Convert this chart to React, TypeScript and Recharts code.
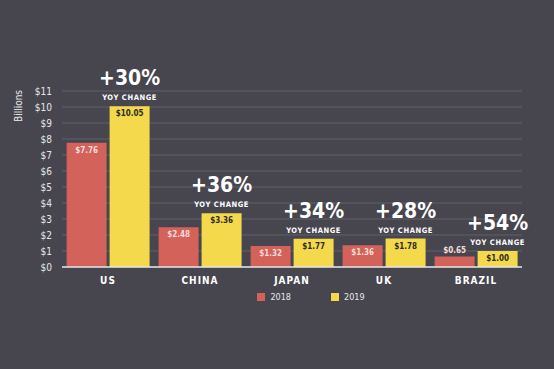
import React from "react";
import {
  BarChart,
  Bar,
  XAxis,
  YAxis,
  CartesianGrid,
  Legend,
  LabelList
} from "recharts";

const countries = ["US", "CHINA", "JAPAN", "UK", "BRAZIL"];
const values2018 = [7.76, 2.48, 1.32, 1.36, 0.65];
const values2019 = [10.05, 3.36, 1.77, 1.78, 1.0];
const yoyChange = ["+30%", "+36%", "+34%", "+28%", "+54%"];
const yTicks = [0, 1, 2, 3, 4, 5, 6, 7, 8, 9, 10, 11];

const data = countries.map((c, i) => ({
  country: c,
  y2018: values2018[i],
  y2019: values2019[i],
  yoy: yoyChange[i]
}));

const BG = "#47464f";
const RED = "#d2625a";
const YELLOW = "#f3d94b";
const FONT = "'DejaVu Sans Condensed', 'DejaVu Sans', sans-serif";

const money = (v: number) => `$${v.toFixed(2)}`;

const RedLabel = (props: any) => {
  const { x, y, width, height, value } = props;
  const inside = height > 16;
  return (
    <text
      x={x + width / 2}
      y={inside ? y + 10 : y - 4}
      textAnchor="middle"
      fill="#f6dcd6"
      fontFamily={FONT}
      fontWeight="bold"
      fontSize={8}
    >
      {money(value)}
    </text>
  );
};

const YellowLabel = (props: any) => {
  const { x, y, width, value } = props;
  return (
    <text
      x={x + width / 2}
      y={y + 10}
      textAnchor="middle"
      fill="#2e2b24"
      fontFamily={FONT}
      fontWeight="bold"
      fontSize={8}
    >
      {money(value)}
    </text>
  );
};

const YoyLabel = (props: any) => {
  const { x, y, width, index } = props;
  const cx = x + width / 2;
  return (
    <g>
      <text
        x={cx}
        y={y - 21}
        textAnchor="middle"
        fill="#ffffff"
        fontFamily={FONT}
        fontWeight="bold"
        fontSize={21}
      >
        {yoyChange[index]}
      </text>
      <text
        x={cx}
        y={y - 6}
        textAnchor="middle"
        fill="#ffffff"
        fontFamily={FONT}
        fontWeight="bold"
        fontSize={7.5}
        letterSpacing={0.6}
      >
        YOY CHANGE
      </text>
    </g>
  );
};

const LegendContent = () => (
  <div
    style={{
      display: "flex",
      justifyContent: "center",
      gap: 40,
      fontFamily: FONT,
      fontSize: 9,
      color: "#e6e6e6",
      paddingLeft: 100,
      paddingTop: 3
    }}
  >
    {[
      { label: "2018", color: RED },
      { label: "2019", color: YELLOW }
    ].map((it) => (
      <div key={it.label} style={{ display: "flex", alignItems: "center", gap: 5 }}>
        <span style={{ width: 8, height: 8, background: it.color, display: "inline-block" }} />
        <span>{it.label}</span>
      </div>
    ))}
  </div>
);

export default function App() {
  return (
    <div style={{ position: "absolute", left: 0, top: 0, width: 554, height: 369, background: BG }}>
      <div
        style={{
          position: "absolute",
          left: 18,
          top: 106,
          transform: "translate(-50%, -50%) rotate(-90deg)",
          color: "#e6e6e6",
          fontFamily: FONT,
          fontSize: 10,
          zIndex: 2
        }}
      >
        Billions
      </div>
      <BarChart
        width={554}
        height={369}
        data={data}
        margin={{ top: 91, right: 32, left: 0, bottom: 50 }}
        barCategoryGap="5%"
        barGap={3}
      >
        <CartesianGrid vertical={false} stroke="#62616b" strokeWidth={1.2} />
        <YAxis
          domain={[0, 11]}
          ticks={yTicks}
          interval={0}
          width={62}
          axisLine={false}
          tickLine={false}
          tickFormatter={(v) => `$${v}`}
          tick={{ fill: "#e6e6e6", fontSize: 10, fontFamily: FONT }}
          tickMargin={4}
        />
        <XAxis
          dataKey="country"
          height={22}
          axisLine={{ stroke: "#e6e6e6", strokeWidth: 1.5 }}
          tickLine={false}
          tick={{ fill: "#ffffff", fontSize: 10, fontFamily: FONT, fontWeight: "bold", letterSpacing: 1 }}
          tickMargin={4}
        />
        <Legend verticalAlign="bottom" height={30} content={<LegendContent />} />
        <Bar dataKey="y2018" fill={RED} isAnimationActive={false}>
          <LabelList dataKey="y2018" content={<RedLabel />} />
        </Bar>
        <Bar dataKey="y2019" fill={YELLOW} isAnimationActive={false}>
          <LabelList dataKey="y2019" content={<YellowLabel />} />
          <LabelList dataKey="yoy" content={<YoyLabel />} />
        </Bar>
      </BarChart>
    </div>
  );
}
